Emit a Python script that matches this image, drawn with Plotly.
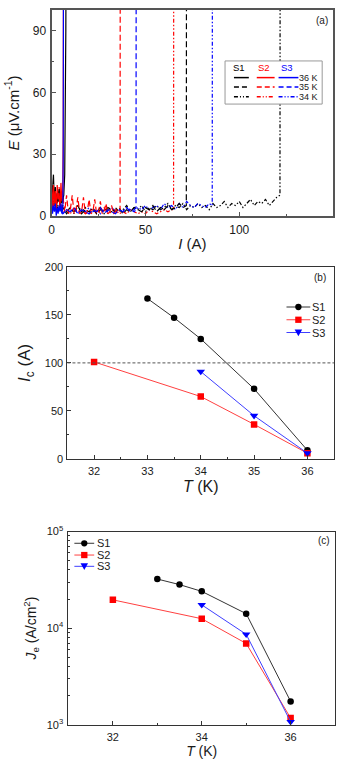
import plotly.graph_objects as go

# ---- panel (a): E-I curves (I in A, E in uV/cm) ----
BLACK = "#000000"
RED = "#ff0000"
BLUE = "#0000ff"

# 34 K (dash-dot-dot)
s1_34_i = [0, 2, 4, 6, 8, 10, 12, 14, 16, 18, 20, 22, 24, 26, 28, 30, 32, 34, 36, 38, 40,
           42, 44, 46, 48, 50, 52, 54, 56, 58, 60, 62, 64, 66, 68, 70, 72, 74, 76, 78, 80,
           82, 84, 86, 88, 90, 92, 94, 96, 98, 100, 102, 104, 106, 108, 110, 112, 114, 116,
           118, 120, 121.7, 121.8]
s1_34_e = [4, 9, 3, 5, 2, 4, 1, 5, 2, 4, 1, 3, 2, 4, 1, 3, 2, 4, 2, 3, 5,
           2, 4, 3, 5, 2, 4, 3, 5, 3, 4, 6, 3, 5, 4, 6, 3, 5, 4, 6, 4,
           5, 3, 6, 4, 5, 7, 4, 6, 5, 7, 4, 6, 8, 5, 7, 6, 8, 5,
           7, 9, 10, 150]
s2_34_i = [0, 2, 4, 6, 8, 10, 12, 14, 16, 18, 20, 22, 24, 26, 28, 30, 32, 34, 36, 38, 40,
           42, 44, 46, 48, 50, 52, 54, 56, 58, 60, 62, 64, 65.0, 65.1]
s2_34_e = [10, 4, 8, 2, 3, 1, 4, 2, 3, 1, 2, 3, 1, 2, 4, 1, 2, 3, 1, 2, 1,
           3, 2, 1, 2, 1, 3, 2, 1, 2, 3, 2, 3, 3, 150]
s3_34_i = [0, 2, 4, 6, 8, 10, 12, 14, 16, 18, 20, 22, 24, 26, 28, 30, 32, 34, 36, 38, 40,
           42, 44, 46, 48, 50, 52, 54, 56, 58, 60, 62, 64, 66, 68, 70, 72, 74, 76, 78, 80,
           82, 84, 85.6, 85.7]
s3_34_e = [6, 3, 5, 1, 3, 2, 4, 1, 3, 2, 4, 2, 3, 1, 3, 2, 4, 2, 3, 2, 4,
           3, 2, 4, 3, 5, 3, 4, 5, 3, 6, 4, 5, 3, 6, 4, 7, 5, 4, 6, 5,
           4, 6, 5, 150]

# 35 K (dashed)
s1_35_i = [0, 2, 4, 6, 8, 10, 12, 14, 16, 18, 20, 22, 24, 26, 28, 30, 32, 34, 36, 38, 40,
           42, 44, 46, 48, 50, 52, 54, 56, 58, 60, 62, 64, 66, 68, 70, 71.8, 71.9]
s1_35_e = [3, 6, 2, 4, 1, 3, 2, 5, 1, 3, 2, 4, 1, 3, 2, 4, 3, 2, 4, 1, 3,
           2, 4, 3, 2, 4, 3, 5, 2, 4, 3, 5, 3, 4, 6, 4, 5, 150]
s2_35_i = [0, 1, 2, 3, 4, 5, 6, 7, 8, 9, 10, 11, 12, 13, 14, 15, 16, 17, 18, 19, 20,
           21, 22, 23, 24, 25, 26, 27, 28, 29, 30, 31, 32, 33, 34, 35, 36, 36.5, 36.6]
s2_35_e = [15, 3, 12, 6, 14, 4, 10, 2, 10, 1, 3, 10, 1, 3, 9, 1, 2, 9, 1, 2, 8,
           1, 2, 8, 1, 2, 7, 1, 2, 6, 1, 2, 5, 1, 2, 3, 2, 3, 150]
s3_35_i = [0, 2, 4, 6, 8, 10, 12, 14, 16, 18, 20, 22, 24, 26, 28, 30, 32, 34, 36, 38, 40,
           42, 44, 45.0, 45.1]
s3_35_e = [5, 2, 4, 1, 3, 2, 4, 1, 3, 2, 1, 3, 2, 4, 1, 3, 2, 1, 3, 2, 4,
           2, 3, 4, 150]

# 36 K (solid)
s1_36_i = [0, 0.5, 1, 1.5, 2, 2.5, 3, 3.5, 4, 4.5, 5, 5.5, 6, 6.5, 7, 7.3, 7.6, 7.8]
s1_36_e = [5, 12, 20, 6, 14, 3, 11, 7, 13, 4, 9, 6, 8, 10, 20, 45, 90, 150]
s2_36_i = [0, 0.5, 1, 1.5, 2, 2.5, 3, 3.5, 4, 4.5, 5, 5.5, 6, 6.2, 6.4]
s2_36_e = [14, 3, 15, 6, 12, 2, 15, 8, 11, 3, 16, 7, 13, 40, 150]
s3_36_i = [0, 0.5, 1, 1.5, 2, 2.5, 3, 3.5, 4, 4.5, 5, 5.5, 6, 6.2, 6.4]
s3_36_e = [6, 1, 5, 2, 6, 0, 4, 1, 5, 2, 6, 1, 4, 30, 150]

# ---- panel (b): Ic vs T ----
s1_t = [33, 33.5, 34, 35, 36]
s1_ic = [167, 147, 125, 73, 9]
s2_t = [32, 34, 35, 36]
s2_ic = [101, 65, 36, 6]
s3_t = [34, 35, 36]
s3_ic = [91, 45, 6]
IC_REF = 100

# ---- panel (c): Je vs T ----
s1_je = [3.22e4, 2.82e4, 2.40e4, 1.41e4, 1.74e3]
s2_je = [1.96e4, 1.25e4, 6.93e3, 1.17e3]
s3_je = [1.74e4, 8.62e3, 1.07e3]

W, H = 342, 764
DASH_DDOT = "4px,2px,1.5px,2px,1.5px,2px"
DASH = "6px,3px"
FONT = "Liberation Sans, Arial, sans-serif"
TXT = "#1a1a1a"
FRAME_A = "#555555"
FRAME = "#333333"
LINE_COLORS = {BLACK: "#333333", RED: "#ff4040", BLUE: "#3f3fff"}


def px(x):
    return x / W


def py(y):
    return 1 - y / H


fig = go.Figure()

curves_a = [
    (s1_34_i, s1_34_e, BLACK, DASH_DDOT),
    (s2_34_i, s2_34_e, RED, DASH_DDOT),
    (s3_34_i, s3_34_e, BLUE, DASH_DDOT),
    (s1_35_i, s1_35_e, BLACK, DASH),
    (s2_35_i, s2_35_e, RED, DASH),
    (s3_35_i, s3_35_e, BLUE, DASH),
    (s1_36_i, s1_36_e, BLACK, "solid"),
    (s2_36_i, s2_36_e, RED, "solid"),
    (s3_36_i, s3_36_e, BLUE, "solid"),
]
for xs, ys, color, dash in curves_a:
    fig.add_trace(go.Scatter(x=xs, y=ys, mode="lines", xaxis="x", yaxis="y",
                             line={"color": color, "width": 1.2, "dash": dash},
                             showlegend=False, hoverinfo="skip"))

series = [
    ("S1", s1_t, s1_ic, s1_je, BLACK, "circle"),
    ("S2", s2_t, s2_ic, s2_je, RED, "square"),
    ("S3", s3_t, s3_ic, s3_je, BLUE, "triangle-down"),
]
for axes, col in [(("x2", "y2"), 2), (("x3", "y3"), 3)]:
    for name, ts, ic, je, color, sym in series:
        fig.add_trace(go.Scatter(x=ts, y=ic if col == 2 else je, mode="lines+markers", name=name,
                                 xaxis=axes[0], yaxis=axes[1], showlegend=False,
                                 line={"color": LINE_COLORS[color], "width": 1},
                                 marker={"symbol": sym, "size": 6.5 if sym != "triangle-down" else 7.5,
                                         "color": color}))

fig.add_shape(type="line", xref="x2 domain", yref="y2", x0=0, x1=1, y0=IC_REF, y1=IC_REF,
              line={"color": "#555555", "width": 1, "dash": "3px,2px"})

tick_font = {"family": FONT, "size": 11, "color": TXT}
axis_common = dict(showline=True, mirror=True, ticks="inside", showgrid=False, zeroline=False,
                   tickfont=tick_font, ticklen=4)


def minor(vals, color):
    return {"tickvals": vals, "ticks": "inside", "ticklen": 2, "tickcolor": color}


fig.update_layout(
    width=W, height=H,
    margin={"l": 0, "r": 0, "t": 0, "b": 0},
    paper_bgcolor="white", plot_bgcolor="white",
    font={"family": FONT, "color": TXT},
    xaxis=dict(axis_common, domain=[px(49), px(333)], anchor="y", range=[0, 150],
               tickvals=[0, 50, 100, 150], linewidth=2, linecolor=FRAME_A, tickcolor=FRAME_A,
               tickfont={"family": FONT, "size": 12, "color": TXT},
               minor=minor([25, 75, 125], FRAME_A), ticklabelstandoff=2,
               title={"text": "<i>I</i> (A)", "font": {"size": 15}, "standoff": 2}),
    yaxis=dict(axis_common, domain=[py(212), py(2)], anchor="x", range=[0, 100],
               tickvals=[0, 30, 60, 90], linewidth=2, linecolor=FRAME_A, tickcolor=FRAME_A,
               tickfont={"family": FONT, "size": 12, "color": TXT},
               minor=minor([15, 45, 75], FRAME_A), ticklabelstandoff=1,
               title={"text": "<i>E</i> (μV.cm<sup>-1</sup>)", "font": {"size": 15}, "standoff": 10}),
    xaxis2=dict(axis_common, domain=[px(65), px(334)], anchor="y2", range=[31.5, 36.5],
                tickvals=[32, 33, 34, 35, 36], linewidth=1, linecolor=FRAME, tickcolor=FRAME,
                minor=minor([31.5, 32.5, 33.5, 34.5, 35.5], FRAME), ticklabelstandoff=2,
                title={"text": "<i>T</i> (K)", "font": {"size": 16}, "standoff": 4}),
    yaxis2=dict(axis_common, domain=[py(460), py(264)], anchor="x2", range=[0, 200],
                tickvals=[0, 50, 100, 150, 200], linewidth=1, linecolor=FRAME, tickcolor=FRAME,
                minor=minor([25, 75, 125, 175], FRAME), ticklabelstandoff=1,
                title={"text": "<i>I</i><sub>c</sub> (A)", "font": {"size": 17}, "standoff": 9}),
    xaxis3=dict(axis_common, domain=[px(66), px(335)], anchor="y3", range=[31, 37],
                tickvals=[32, 34, 36], linewidth=1, linecolor=FRAME, tickcolor=FRAME,
                minor=minor([31, 33, 35, 37], FRAME), ticklabelstandoff=2,
                title={"text": "<i>T</i> (K)", "font": {"size": 14}, "standoff": 3}),
    yaxis3=dict(axis_common, domain=[py(731), py(534)], anchor="x3", type="log", range=[3, 5],
                tickvals=[1e3, 1e4, 1e5],
                ticktext=["10<sup>3</sup>", "10<sup>4</sup>", "10<sup>5</sup>"],
                linewidth=1, linecolor=FRAME, tickcolor=FRAME, ticklabelstandoff=2,
                minor=minor([2e3, 3e3, 4e3, 5e3, 6e3, 7e3, 8e3, 9e3,
                             2e4, 3e4, 4e4, 5e4, 6e4, 7e4, 8e4, 9e4], FRAME),
                title={"text": "<i>J</i><sub>e</sub> (A/cm<sup>2</sup>)", "font": {"size": 14},
                       "standoff": 6}),
)


def label(text, x, y, xanchor="center", size=10, color=TXT):
    fig.add_annotation(text=text, x=px(x), y=py(y), xref="paper", yref="paper", showarrow=False,
                       xanchor=xanchor, yanchor="middle", borderpad=0,
                       font={"family": FONT, "size": size, "color": color})


# panel labels
for text, x, y in [("(a)", 322, 13), ("(b)", 320, 275), ("(c)", 324, 543)]:
    label(text, x, y)

# table-style legend of panel (a)
fig.add_shape(type="rect", xref="paper", yref="paper", x0=px(224), x1=px(322), y0=py(98), y1=py(54),
              line={"color": "#999999", "width": 1}, fillcolor="white", layer="above")
for name, color, hx in zip(["S1", "S2", "S3"], [BLACK, RED, BLUE], [238, 263, 287]):
    label(name, hx, 61, size=9.5, color=color)
sample_x = [(233, 248), (256, 274), (278, 298)]
legend_dash = {"solid": "solid", "dash": "5px,3px", "ddot": "4px,2px,1px,2px,1px,2px"}
for text, dash, ry in [("36 K", "solid", 71), ("35 K", "dash", 80.5), ("34 K", "ddot", 90.5)]:
    for (x0, x1), color in zip(sample_x, [BLACK, RED, BLUE]):
        fig.add_shape(type="line", xref="paper", yref="paper", x0=px(x0), x1=px(x1),
                      y0=py(ry), y1=py(ry), layer="above",
                      line={"color": color, "width": 1.5, "dash": legend_dash[dash]})
    label(text, 319, ry, xanchor="right", size=9)


# legends of panels (b) and (c): line + marker + label
def marker_shape(sym, cx, cy, color, r=3.2):
    if sym == "circle":
        fig.add_shape(type="circle", xref="paper", yref="paper", x0=px(cx - r), x1=px(cx + r),
                      y0=py(cy + r), y1=py(cy - r), fillcolor=color, line={"width": 0})
    elif sym == "square":
        fig.add_shape(type="rect", xref="paper", yref="paper", x0=px(cx - r), x1=px(cx + r),
                      y0=py(cy + r), y1=py(cy - r), fillcolor=color, line={"width": 0})
    else:
        r = 3.8
        path = (f"M {px(cx - r)} {py(cy - r * 0.8)} L {px(cx + r)} {py(cy - r * 0.8)} "
                f"L {px(cx)} {py(cy + r)} Z")
        fig.add_shape(type="path", xref="paper", yref="paper", path=path, fillcolor=color,
                      line={"width": 0})


def sample_legend(x0, x1, rows_y, text_x, size):
    for (name, _, _, _, color, sym), ry in zip(series, rows_y):
        fig.add_shape(type="line", xref="paper", yref="paper", x0=px(x0), x1=px(x1),
                      y0=py(ry), y1=py(ry), line={"color": LINE_COLORS[color], "width": 1})
        marker_shape(sym, (x0 + x1) / 2, ry, color)
        label(name, text_x, ry, xanchor="left", size=size)


sample_legend(286, 310, [305, 318, 331], 311, 11)
sample_legend(72, 92, [546, 558, 569.5], 94, 11)

fig.write_html("out.html", post_script="document.body.style.margin='0';",
               config={"displayModeBar": False})
